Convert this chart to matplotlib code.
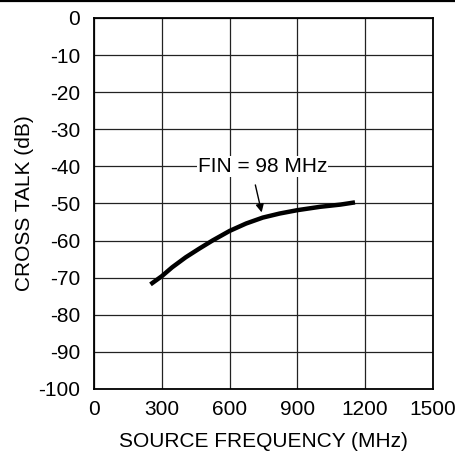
import matplotlib
matplotlib.use("Agg")
import matplotlib.pyplot as plt
from matplotlib.lines import Line2D

plt.rcParams['font.family'] = ['Liberation Sans', 'DejaVu Sans']

# data
freq_mhz = [250, 300, 346, 406, 465, 524, 600, 673, 747, 822, 900, 1000, 1090, 1155]
crosstalk_db = [-71.8, -69.6, -67.2, -64.5, -62.2, -60.0, -57.4, -55.4, -53.8, -52.7,
                -51.8, -50.9, -50.3, -49.7]

x_ticks = [0, 300, 600, 900, 1200, 1500]
y_ticks = [0, -10, -20, -30, -40, -50, -60, -70, -80, -90, -100]
note = "FIN = 98 MHz"

fig = plt.figure(figsize=(4.56, 4.53), dpi=100)
ax = fig.add_axes([0.2061, 0.1413, 0.7434, 0.819])

ax.plot(freq_mhz, crosstalk_db, color='black', linewidth=3.2, solid_capstyle='butt',
        solid_joinstyle='round', zorder=3)

ax.set_xlim(0, 1500)
ax.set_ylim(-100, 0)
ax.set_xticks(x_ticks)
ax.set_yticks(y_ticks)
ax.set_yticklabels([str(v) for v in y_ticks])
ax.grid(True, color='#222222', linewidth=0.9)
ax.tick_params(length=0, labelsize=15, colors='black')
ax.tick_params(axis='y', pad=10)
ax.tick_params(axis='x', pad=8)
for s in ax.spines.values():
    s.set_linewidth(1.3)

ax.set_xlabel('SOURCE FREQUENCY (MHz)', fontsize=15, labelpad=9)
ax.set_ylabel('CROSS TALK (dB)', fontsize=15, labelpad=3)

# label sits on the -40 grid line with a white box behind it
ax.text(745, -40, note, fontsize=15, ha='center', va='center', zorder=4,
        bbox=dict(boxstyle='square,pad=0.05', fc='white', ec='none'))
# slanted arrow down to the curve
ax.annotate('', xy=(742, -52.4), xytext=(714, -45.0),
            arrowprops=dict(arrowstyle='-|>', color='black', lw=1.0,
                            mutation_scale=12, shrinkA=0, shrinkB=0),
            zorder=4)

# rule across the top of the page
fig.add_artist(Line2D([0, 1], [0.997, 0.997], color='black', linewidth=1.6,
                      transform=fig.transFigure))

fig.savefig('out.png', dpi=100)
